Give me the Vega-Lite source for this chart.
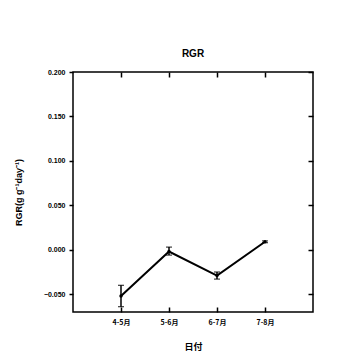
{
  "$schema": "https://vega.github.io/schema/vega-lite/v6.json",
  "width": 240,
  "height": 240,
  "autosize": {"type": "none"},
  "padding": {"left": 73, "top": 72, "right": 47, "bottom": 48},
  "background": "white",
  "title": {"text": "RGR", "fontSize": 10, "font": "Liberation Sans", "fontWeight": "bold", "offset": 9, "color": "black"},
  "data": {"values": [
    {"date": "4-5月", "rgr": -0.052, "lo": -0.064, "hi": -0.040},
    {"date": "5-6月", "rgr": -0.002, "lo": -0.006, "hi": 0.003},
    {"date": "6-7月", "rgr": -0.029, "lo": -0.033, "hi": -0.025},
    {"date": "7-8月", "rgr": 0.009, "lo": 0.008, "hi": 0.010}
  ]},
  "config": {
    "view": {"stroke": "black", "strokeWidth": 1.5},
    "axis": {"domain": false, "grid": false, "ticks": true, "labelColor": "black", "titleColor": "black", "tickColor": "black", "tickWidth": 1.5, "labelFontWeight": "bold", "titleFontWeight": "bold", "labelFontSize": 7, "titleFontSize": 9}
  },
  "layer": [
    {
      "mark": {"type": "rule", "color": "black", "strokeWidth": 1.5},
      "encoding": {
        "x": {"field": "date", "type": "ordinal", "sort": null,
          "scale": {"type": "point", "padding": 1},
          "axis": {"title": "日付", "labelAngle": 0, "labelFont": "Noto Sans CJK JP", "titleFont": "Noto Sans CJK JP", "ticks": true, "tickColor": "black", "tickWidth": 1.5, "tickSize": -5, "labelPadding": 11, "titlePadding": 17}},
        "y": {"field": "lo", "type": "quantitative",
          "scale": {"domain": [-0.07, 0.2], "nice": false, "zero": false},
          "axis": {"title": "RGR(g g⁻¹day⁻¹)", "values": [-0.05, 0, 0.05, 0.1, 0.15, 0.2], "format": ".3f", "labelFont": "Liberation Sans", "titleFont": "Liberation Sans", "ticks": true, "tickColor": "black", "tickWidth": 1.5, "tickSize": 4, "labelPadding": 4, "titlePadding": 20}},
        "y2": {"field": "hi"}
      }
    },
    {
      "mark": {"type": "tick", "color": "black", "size": 6, "thickness": 1.3},
      "encoding": {
        "x": {"field": "date", "type": "ordinal", "sort": null, "axis": null},
        "y": {"field": "lo", "type": "quantitative", "axis": null}
      }
    },
    {
      "mark": {"type": "tick", "color": "black", "size": 6, "thickness": 1.3},
      "encoding": {
        "x": {"field": "date", "type": "ordinal", "sort": null, "axis": null},
        "y": {"field": "hi", "type": "quantitative", "axis": null}
      }
    },
    {
      "mark": {"type": "line", "color": "black", "strokeWidth": 2},
      "encoding": {
        "x": {"field": "date", "type": "ordinal", "sort": null, "axis": null},
        "y": {"field": "rgr", "type": "quantitative", "axis": null}
      }
    },
    {
      "mark": {"type": "point", "color": "black", "filled": true, "size": 12, "opacity": 1},
      "encoding": {
        "x": {"field": "date", "type": "ordinal", "sort": null,
          "axis": {"orient": "top", "title": null, "labels": false, "ticks": true, "tickColor": "black", "tickWidth": 1.5, "tickSize": -5}},
        "y": {"field": "rgr", "type": "quantitative",
          "axis": {"orient": "right", "title": null, "labels": false, "ticks": true, "tickColor": "black", "tickWidth": 1.5, "values": [-0.05, 0, 0.05, 0.1, 0.15, 0.2], "tickSize": -5}}
      }
    }
  ],
  "resolve": {"axis": {"x": "independent", "y": "independent"}}
}
